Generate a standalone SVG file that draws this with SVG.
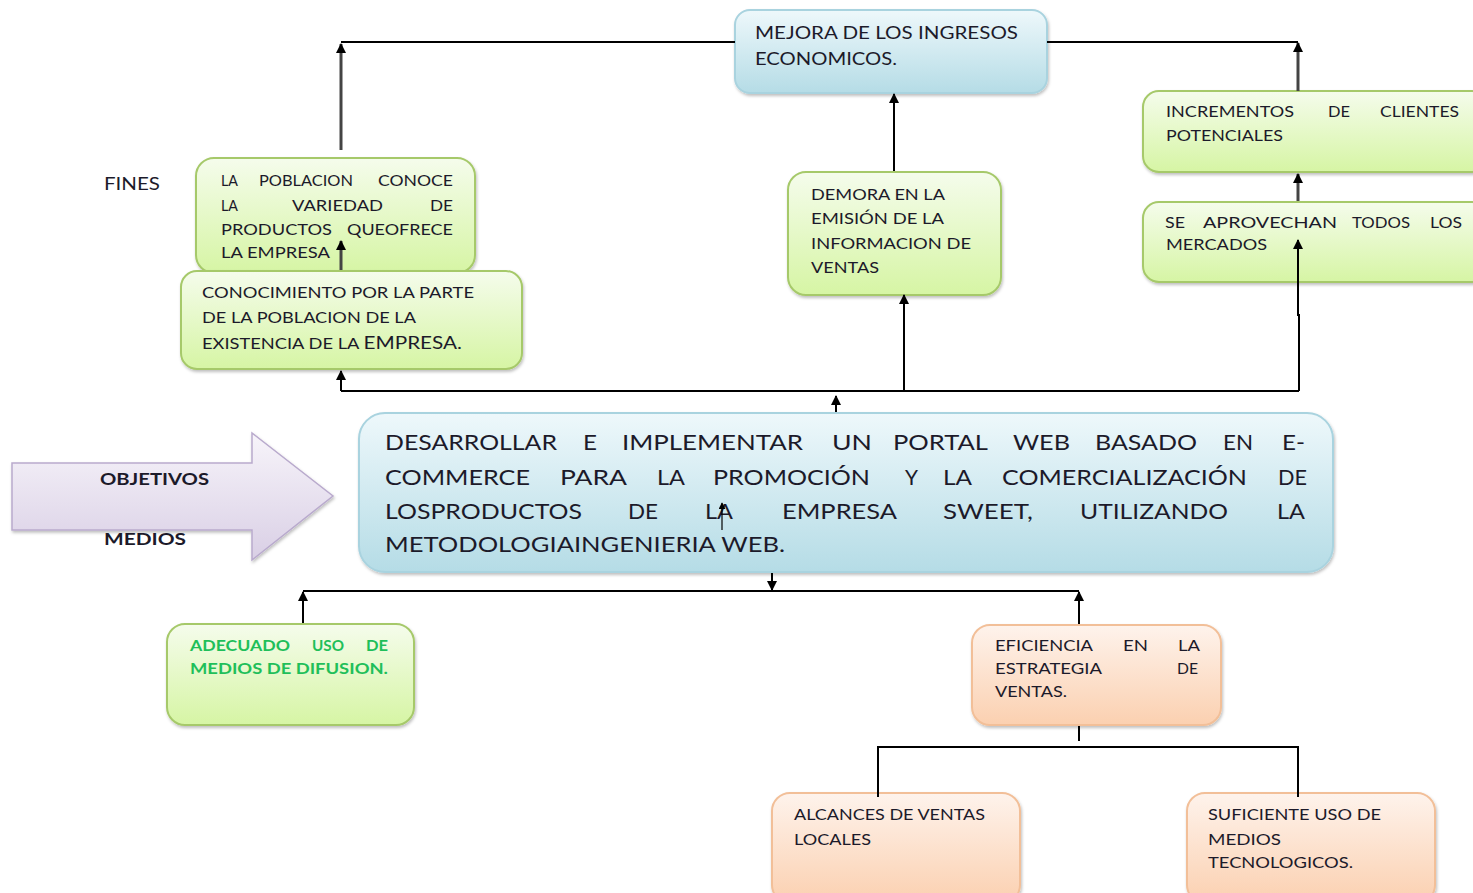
<svg xmlns="http://www.w3.org/2000/svg" width="1473" height="893" viewBox="0 0 1473 893">
  <defs>
    <linearGradient id="gBlue" x1="0" y1="0" x2="0" y2="1">
      <stop offset="0" stop-color="#eef8fb"/>
      <stop offset="1" stop-color="#b5dce6"/>
    </linearGradient>
    <linearGradient id="gGreen" x1="0" y1="0" x2="0" y2="1">
      <stop offset="0" stop-color="#f5fcec"/>
      <stop offset="1" stop-color="#d6f5a4"/>
    </linearGradient>
    <linearGradient id="gPeach" x1="0" y1="0" x2="0" y2="1">
      <stop offset="0" stop-color="#fef3ec"/>
      <stop offset="1" stop-color="#fbd0b0"/>
    </linearGradient>
    <linearGradient id="gPurple" x1="0" y1="0" x2="0" y2="1">
      <stop offset="0" stop-color="#f7f4fa"/>
      <stop offset="1" stop-color="#d9cfe5"/>
    </linearGradient>
    <filter id="shadow" x="-5%" y="-5%" width="112%" height="120%">
      <feDropShadow dx="1" dy="2" stdDeviation="1.5" flood-color="#000" flood-opacity="0.25"/>
    </filter>
    <marker id="ah" viewBox="0 0 10 10" refX="9" refY="5" markerWidth="10" markerHeight="10" markerUnits="userSpaceOnUse" orient="auto">
      <path d="M0,0 L10,5 L0,10 Z" fill="#000"/>
    </marker>
    <marker id="ahs" viewBox="0 0 10 10" refX="9" refY="5" markerWidth="7" markerHeight="7" markerUnits="userSpaceOnUse" orient="auto">
      <path d="M0,0 L10,5 L0,10 Z" fill="#000"/>
    </marker>
  </defs>
  <style>
    text { font-family: Lato, "Liberation Sans", sans-serif; fill: #1c1a2a; }
    .s { font-size: 15px; }
    .m { font-size: 17px; }
    .l { font-size: 21px; }
    .gt { font-weight: bold; fill: #1fbf5a; }
    .blue { fill: url(#gBlue); stroke: #a9d3df; stroke-width: 2; filter: url(#shadow); }
    .green { fill: url(#gGreen); stroke: #a6c96a; stroke-width: 2; filter: url(#shadow); }
    .peach { fill: url(#gPeach); stroke: #f2bf98; stroke-width: 2; filter: url(#shadow); }
    .ln { fill: none; stroke: #000; stroke-width: 2; }
    .lg { fill: none; stroke: #444; stroke-width: 3; }
  </style>

  <rect width="1473" height="893" fill="#fff"/>

  <!-- side labels -->
  <text id="lbl-fines" x="104" y="190" font-size="17" textLength="56" lengthAdjust="spacingAndGlyphs">FINES</text>

  <g id="arrow-objetivos">
    <polygon points="12,463 252,463 252,433 333,496 252,560 252,530 12,530" fill="url(#gPurple)" stroke="#b9aacd" stroke-width="1.5" filter="url(#shadow)"/>
    <text x="100" y="485" font-size="17" font-weight="bold" textLength="109" lengthAdjust="spacingAndGlyphs">OBJETIVOS</text>
    <text x="104" y="545" font-size="17" font-weight="bold" textLength="82" lengthAdjust="spacingAndGlyphs">MEDIOS</text>
  </g>

  <g id="n-mejora">
    <rect class="blue" x="735" y="10" width="312" height="83" rx="15"/>
    <text class="m" x="755" y="39" textLength="263" lengthAdjust="spacingAndGlyphs">MEJORA DE LOS INGRESOS</text>
    <text class="m" x="755" y="65" textLength="142" lengthAdjust="spacingAndGlyphs">ECONOMICOS.</text>
  </g>

  <g id="n-poblacion">
    <rect class="green" x="196" y="158" width="279" height="115" rx="18"/>
    <text class="s" x="221" y="186" textLength="17" lengthAdjust="spacingAndGlyphs">LA</text>
    <text class="s" x="259" y="186" textLength="94" lengthAdjust="spacingAndGlyphs">POBLACION</text>
    <text class="s" x="378" y="186" textLength="75" lengthAdjust="spacingAndGlyphs">CONOCE</text>
    <text class="s" x="221" y="211" textLength="17" lengthAdjust="spacingAndGlyphs">LA</text>
    <text class="s" x="292" y="211" textLength="91" lengthAdjust="spacingAndGlyphs">VARIEDAD</text>
    <text class="s" x="430" y="211" textLength="23" lengthAdjust="spacingAndGlyphs">DE</text>
    <text class="s" x="221" y="235" textLength="111" lengthAdjust="spacingAndGlyphs">PRODUCTOS</text>
    <text class="s" x="347" y="235" textLength="106" lengthAdjust="spacingAndGlyphs">QUEOFRECE</text>
    <text class="s" x="221" y="258" textLength="109" lengthAdjust="spacingAndGlyphs">LA EMPRESA</text>
  </g>

  <g id="n-conocimiento">
    <rect class="green" x="181" y="271" width="341" height="98" rx="16"/>
    <text class="s" x="202" y="298" textLength="272" lengthAdjust="spacingAndGlyphs">CONOCIMIENTO POR LA PARTE</text>
    <text class="s" x="202" y="323" textLength="214" lengthAdjust="spacingAndGlyphs">DE LA POBLACION DE LA</text>
    <text class="s" x="202" y="349" textLength="260" lengthAdjust="spacingAndGlyphs">EXISTENCIA DE LA <tspan font-size="17">EMPRESA.</tspan></text>
  </g>

  <g id="n-demora">
    <rect class="green" x="788" y="172" width="213" height="123" rx="18"/>
    <text class="s" x="811" y="200" textLength="134" lengthAdjust="spacingAndGlyphs">DEMORA EN LA</text>
    <text class="s" x="811" y="224" textLength="133" lengthAdjust="spacingAndGlyphs">EMISIÓN DE LA</text>
    <text class="s" x="811" y="249" textLength="160" lengthAdjust="spacingAndGlyphs">INFORMACION DE</text>
    <text class="s" x="811" y="273" textLength="68" lengthAdjust="spacingAndGlyphs">VENTAS</text>
  </g>

  <g id="n-incrementos">
    <rect class="green" x="1143" y="91" width="345" height="81" rx="16"/>
    <text class="s" x="1166" y="117" textLength="128" lengthAdjust="spacingAndGlyphs">INCREMENTOS</text>
    <text class="s" x="1328" y="117" textLength="22" lengthAdjust="spacingAndGlyphs">DE</text>
    <text class="s" x="1380" y="117" textLength="79" lengthAdjust="spacingAndGlyphs">CLIENTES</text>
    <text class="s" x="1166" y="141" textLength="117" lengthAdjust="spacingAndGlyphs">POTENCIALES</text>
  </g>

  <g id="n-aprovechan">
    <rect class="green" x="1143" y="202" width="345" height="80" rx="16"/>
    <text class="s" x="1165" y="228" textLength="20" lengthAdjust="spacingAndGlyphs">SE</text>
    <text class="s" x="1203" y="228" textLength="134" lengthAdjust="spacingAndGlyphs">APROVECHAN</text>
    <text class="s" x="1352" y="228" textLength="58" lengthAdjust="spacingAndGlyphs">TODOS</text>
    <text class="s" x="1430" y="228" textLength="32" lengthAdjust="spacingAndGlyphs">LOS</text>
    <text class="s" x="1166" y="250" textLength="101" lengthAdjust="spacingAndGlyphs">MERCADOS</text>
  </g>

  <g id="n-objetivo">
    <rect class="blue" x="359" y="413" width="974" height="159" rx="26"/>
    <text class="l" x="385" y="450" textLength="172" lengthAdjust="spacingAndGlyphs">DESARROLLAR</text>
    <text class="l" x="583" y="450" textLength="14" lengthAdjust="spacingAndGlyphs">E</text>
    <text class="l" x="622" y="450" textLength="181" lengthAdjust="spacingAndGlyphs">IMPLEMENTAR</text>
    <text class="l" x="832" y="450" textLength="40" lengthAdjust="spacingAndGlyphs">UN</text>
    <text class="l" x="893" y="450" textLength="95" lengthAdjust="spacingAndGlyphs">PORTAL</text>
    <text class="l" x="1013" y="450" textLength="57" lengthAdjust="spacingAndGlyphs">WEB</text>
    <text class="l" x="1095" y="450" textLength="102" lengthAdjust="spacingAndGlyphs">BASADO</text>
    <text class="l" x="1223" y="450" textLength="30" lengthAdjust="spacingAndGlyphs">EN</text>
    <text class="l" x="1282" y="450" textLength="23" lengthAdjust="spacingAndGlyphs">E-</text>
    <text class="l" x="385" y="485" textLength="145" lengthAdjust="spacingAndGlyphs">COMMERCE</text>
    <text class="l" x="560" y="485" textLength="67" lengthAdjust="spacingAndGlyphs">PARA</text>
    <text class="l" x="657" y="485" textLength="28" lengthAdjust="spacingAndGlyphs">LA</text>
    <text class="l" x="713" y="485" textLength="157" lengthAdjust="spacingAndGlyphs">PROMOCIÓN</text>
    <text class="l" x="905" y="485" textLength="13" lengthAdjust="spacingAndGlyphs">Y</text>
    <text class="l" x="943" y="485" textLength="29" lengthAdjust="spacingAndGlyphs">LA</text>
    <text class="l" x="1002" y="485" textLength="245" lengthAdjust="spacingAndGlyphs">COMERCIALIZACIÓN</text>
    <text class="l" x="1278" y="485" textLength="29" lengthAdjust="spacingAndGlyphs">DE</text>
    <text class="l" x="385" y="519" textLength="197" lengthAdjust="spacingAndGlyphs">LOSPRODUCTOS</text>
    <text class="l" x="628" y="519" textLength="30" lengthAdjust="spacingAndGlyphs">DE</text>
    <text class="l" x="705" y="519" textLength="28" lengthAdjust="spacingAndGlyphs">LA</text>
    <text class="l" x="782" y="519" textLength="115" lengthAdjust="spacingAndGlyphs">EMPRESA</text>
    <text class="l" x="943" y="519" textLength="90" lengthAdjust="spacingAndGlyphs">SWEET,</text>
    <text class="l" x="1080" y="519" textLength="148" lengthAdjust="spacingAndGlyphs">UTILIZANDO</text>
    <text class="l" x="1277" y="519" textLength="28" lengthAdjust="spacingAndGlyphs">LA</text>
    <text class="l" x="385" y="552" textLength="400" lengthAdjust="spacingAndGlyphs">METODOLOGIAINGENIERIA WEB.</text>
  </g>

  <g id="n-difusion">
    <rect class="green" x="167" y="624" width="247" height="101" rx="18"/>
    <text class="s gt" x="190" y="651" textLength="100" lengthAdjust="spacingAndGlyphs">ADECUADO</text>
    <text class="s gt" x="312" y="651" textLength="32" lengthAdjust="spacingAndGlyphs">USO</text>
    <text class="s gt" x="366" y="651" textLength="22" lengthAdjust="spacingAndGlyphs">DE</text>
    <text class="s gt" x="190" y="674" textLength="198" lengthAdjust="spacingAndGlyphs">MEDIOS DE DIFUSION.</text>
  </g>

  <g id="n-eficiencia">
    <rect class="peach" x="972" y="625" width="249" height="100" rx="18"/>
    <text class="s" x="995" y="651" textLength="98" lengthAdjust="spacingAndGlyphs">EFICIENCIA</text>
    <text class="s" x="1123" y="651" textLength="25" lengthAdjust="spacingAndGlyphs">EN</text>
    <text class="s" x="1178" y="651" textLength="22" lengthAdjust="spacingAndGlyphs">LA</text>
    <text class="s" x="995" y="674" textLength="107" lengthAdjust="spacingAndGlyphs">ESTRATEGIA</text>
    <text class="s" x="1177" y="674" textLength="21" lengthAdjust="spacingAndGlyphs">DE</text>
    <text class="s" x="995" y="697" textLength="72" lengthAdjust="spacingAndGlyphs">VENTAS.</text>
  </g>

  <g id="n-alcances">
    <rect class="peach" x="772" y="793" width="248" height="110" rx="18"/>
    <text class="s" x="794" y="820" textLength="191" lengthAdjust="spacingAndGlyphs">ALCANCES DE VENTAS</text>
    <text class="s" x="794" y="845" textLength="77" lengthAdjust="spacingAndGlyphs">LOCALES</text>
  </g>

  <g id="n-suficiente">
    <rect class="peach" x="1187" y="793" width="248" height="110" rx="18"/>
    <text class="s" x="1208" y="820" textLength="173" lengthAdjust="spacingAndGlyphs">SUFICIENTE USO DE</text>
    <text class="s" x="1208" y="845" textLength="73" lengthAdjust="spacingAndGlyphs">MEDIOS</text>
    <text class="s" x="1208" y="868" textLength="145" lengthAdjust="spacingAndGlyphs">TECNOLOGICOS.</text>
  </g>

  <!-- connectors, drawn over the boxes -->
  <g id="connectors">
    <!-- upper tree -->
    <line class="ln" x1="735" y1="42" x2="341" y2="42"/>
    <line class="lg" x1="341" y1="150" x2="341" y2="44" marker-end="url(#ah)"/>
    <line class="ln" x1="1047" y1="42" x2="1298" y2="42"/>
    <line class="lg" x1="1298" y1="91" x2="1298" y2="43" marker-end="url(#ah)"/>
    <line class="ln" x1="894" y1="171" x2="894" y2="94" marker-end="url(#ah)"/>
    <line class="lg" x1="1298" y1="201" x2="1298" y2="174" marker-end="url(#ah)"/>
    <line class="lg" x1="341" y1="270" x2="341" y2="241" marker-end="url(#ah)"/>
    <line class="ln" x1="341" y1="391" x2="1299" y2="391"/>
    <line class="ln" x1="341" y1="391" x2="341" y2="371" marker-end="url(#ah)"/>
    <line class="ln" x1="904" y1="391" x2="904" y2="295" marker-end="url(#ah)"/>
    <polyline class="ln" points="1299,391 1299,315 1298,315 1298,240" marker-end="url(#ah)"/>
    <line class="ln" x1="836" y1="412" x2="836" y2="396" marker-end="url(#ah)"/>
    <line x1="722" y1="530" x2="722" y2="503" stroke="#000" stroke-width="1.2" marker-end="url(#ahs)"/>
    <!-- lower tree -->
    <line class="ln" x1="772" y1="573" x2="772" y2="590" marker-end="url(#ah)"/>
    <line class="ln" x1="303" y1="591" x2="1079" y2="591"/>
    <line class="ln" x1="303" y1="623" x2="303" y2="592" marker-end="url(#ah)"/>
    <line class="ln" x1="1079" y1="624" x2="1079" y2="592" marker-end="url(#ah)"/>
    <line class="ln" x1="1079" y1="726" x2="1079" y2="741"/>
    <polyline class="ln" points="878,797 878,747 1298,747 1298,797"/>
  </g>
</svg>
